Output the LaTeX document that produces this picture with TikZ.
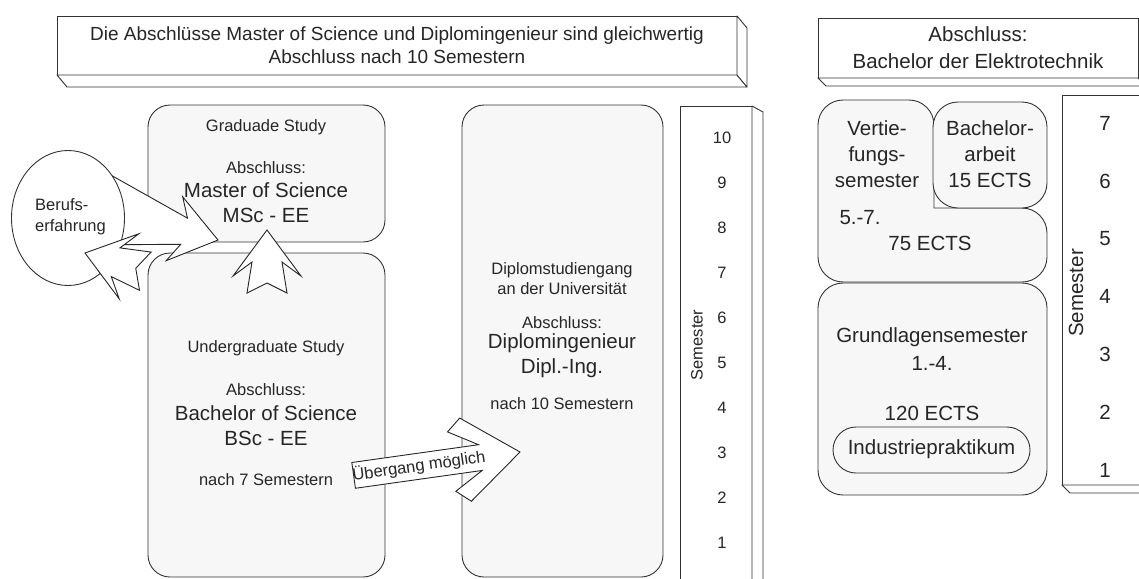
\documentclass[tikz,border=0pt]{standalone}
\usepackage{fontspec}
\setmainfont{Liberation Sans}
\usetikzlibrary{shapes.geometric}

\tikzset{
  study/.style={draw=black!80, fill=black!3, line width=0.9pt, rounded corners=22pt, inner sep=0pt, outer sep=0pt},
  studyline/.style={draw=black!80, fill=black!3, line width=0.9pt},
  plainbox/.style={draw=black!80, fill=white, line width=0.9pt, inner sep=0pt, outer sep=0pt},
  face/.style={draw=black!80, fill=white, line width=0.9pt, line join=round},
  blockarrow/.style={draw=black!85, fill=white, line width=0.9pt, line join=miter},
  txt/.style={inner sep=0pt, text=black!85, font=\fontsize{16.5}{20}\selectfont},
  bigtxt/.style={inner sep=0pt, text=black!85, font=\fontsize{20.5}{24}\selectfont},
}

\begin{document}
\begin{tikzpicture}[x=1pt, y=-1pt]
\useasboundingbox (0,0) rectangle (1139,578);
\clip (0,0) rectangle (1139,578);

% headline boxes
\node[plainbox, minimum width=680pt, minimum height=59pt, align=center, text=black!85,
      font=\fontsize{19}{23}\selectfont] (headL) at (397,45.5)
      {Die Abschlüsse Master of Science und Diplomingenieur sind gleichwertig\\Abschluss nach 10 Semestern};
\draw[face] (headL.south west) -- ++(10,12) -- ++(680,0) -- (headL.south east) -- cycle;
\draw[face] (headL.north east) -- ++(10,12) -- ++(0,59) -- (headL.south east) -- cycle;

\node[plainbox, minimum width=320pt, minimum height=60pt, align=center, text=black!85,
      font=\fontsize{20.5}{27}\selectfont] (headR) at (978,48)
      {Abschluss:\\Bachelor der Elektrotechnik};
\draw[face] (headR.south west) -- ++(8,8) -- ++(320,0) -- (headR.south east) -- cycle;

% study boxes left
\node[study, minimum width=237pt, minimum height=137pt] (grad) at (266.5,173.5) {};
\node[study, minimum width=237pt, minimum height=324pt] (undergrad) at (266.5,415) {};
\node[study, minimum width=201pt, minimum height=472pt] (diplom) at (562.5,341) {};

% semester columns
\node[plainbox, minimum width=72pt, minimum height=484pt] (semL) at (716,348) {};
\draw[face] (semL.north east) -- ++(11,6) -- ++(0,484) -- (semL.south east) -- cycle;
\foreach \n in {1,...,10}
  \node[txt] (semL\n) at (722,588-45*\n) {\n};
\node[txt, rotate=90] (semLlabel) at (697,345) {Semester};

\node[plainbox, minimum width=100pt, minimum height=390pt] (semR) at (1112,290) {};
\draw[face] (semR.south west) -- ++(8,8) -- ++(100,0) -- (semR.south east) -- cycle;
\foreach \n in {1,...,7}
  \node[bigtxt] (semR\n) at (1105,470-57.8*\n+57.8) {\n};
\node[bigtxt, rotate=90] (semRlabel) at (1076,293) {Semester};

% study boxes right
\draw[studyline] (818,125) arc[start angle=180, end angle=270, radius=25] -- (909,100)
  arc[start angle=270, end angle=360, radius=25] -- (934,208) -- (1022,208)
  arc[start angle=270, end angle=360, radius=25] -- (1047,257)
  arc[start angle=0, end angle=90, radius=25] -- (843,282)
  arc[start angle=90, end angle=180, radius=25] -- cycle;
\node[study, rounded corners=25pt, minimum width=114pt, minimum height=106pt] (bacharbeit) at (990,155) {};
\node[study, rounded corners=25pt, minimum width=229pt, minimum height=212pt] (grundlagen) at (932.5,389) {};
\node[study, rounded corners=23pt, minimum width=197pt, minimum height=46pt] (praktikum) at (931.5,450) {};

% arrows
\coordinate (tipMaster) at (218,240);
\coordinate (tipBeruf) at (85,253);
\coordinate (tipUp) at (267,230);
\coordinate (tipDiplom) at (520,452);
\begin{scope}[shift={(tipMaster)}, rotate=-14.5]
  \draw[blockarrow] (0,0) -- (-45,33) -- (-35,13.5) -- (-150,44) -- (-140,0)
    -- (-150,-44) -- (-35,-13.5) -- (-45,-33) -- cycle;
\end{scope}
\node[ellipse, draw=black!80, fill=white, line width=0.9pt, minimum width=113pt,
      minimum height=135pt] (beruf) at (68,218) {};
\begin{scope}[shift={(tipBeruf)}, rotate=163.2]
  \draw[blockarrow] (0,0) -- (-46,34) -- (-32,15) -- (-63,20) -- (-53,0)
    -- (-63,-20) -- (-32,-15) -- (-46,-34) -- cycle;
\end{scope}
\begin{scope}[shift={(tipUp)}, rotate=90]
  \draw[blockarrow] (0,0) -- (-46,34) -- (-32,15) -- (-63,20) -- (-53,0)
    -- (-63,-20) -- (-32,-15) -- (-46,-34) -- cycle;
\end{scope}
\begin{scope}[shift={(tipDiplom)}, rotate=8]
  \draw[blockarrow] (0,0) -- (-55,42) -- (-69,30) -- (-40,13) -- (-168,13)
    -- (-168,-13) -- (-40,-13) -- (-69,-30) -- (-55,-42) -- cycle;
  \node[txt, rotate=8] (uebergang) at (-102,0) {Übergang möglich};
\end{scope}

% texts
\node[txt, align=left, anchor=west, font=\fontsize{16.5}{21}\selectfont] (berufText) at (35,217) {Berufs-\\erfahrung};

\node[txt] (gradTitle) at (266,127) {Graduade Study};
\node[txt] (gradAbs) at (266,168) {Abschluss:};
\node[bigtxt] (gradDeg) at (266,190) {Master of Science};
\node[bigtxt] (gradShort) at (266,215) {MSc - EE};

\node[txt] (ugTitle) at (266,348) {Undergraduate Study};
\node[txt] (ugAbs) at (266,390) {Abschluss:};
\node[bigtxt] (ugDeg) at (266,413) {Bachelor of Science};
\node[bigtxt] (ugShort) at (266,438) {BSc - EE};
\node[txt] (ugTime) at (266,480) {nach 7 Semestern};

\node[txt] (dipTitle) at (562,270) {Diplomstudiengang};
\node[txt] (dipUni) at (562,289) {an der Universität};
\node[txt] (dipAbs) at (562,323) {Abschluss:};
\node[bigtxt] (dipDeg) at (562,343) {Diplomingenieur};
\node[bigtxt] (dipShort) at (562,368) {Dipl.-Ing.};
\node[txt] (dipTime) at (562,404) {nach 10 Semestern};

\node[bigtxt, align=center, font=\fontsize{20.5}{26}\selectfont] (vertText) at (877,154) {Vertie-\\fungs-\\semester};
\node[bigtxt] (vertSem) at (860,218) {5.-7.};
\node[bigtxt] (vertEcts) at (930,243) {75 ECTS};
\node[bigtxt, align=center, font=\fontsize{20.5}{26}\selectfont] (bachText) at (990,154) {Bachelor-\\arbeit\\15 ECTS};

\node[bigtxt] (grundText) at (932,337) {Grundlagensemester};
\node[bigtxt] (grundSem) at (932,363) {1.-4.};
\node[bigtxt] (grundEcts) at (932,413) {120 ECTS};
\node[bigtxt] (praktText) at (931.5,449) {Industriepraktikum};
\end{tikzpicture}
\end{document}
